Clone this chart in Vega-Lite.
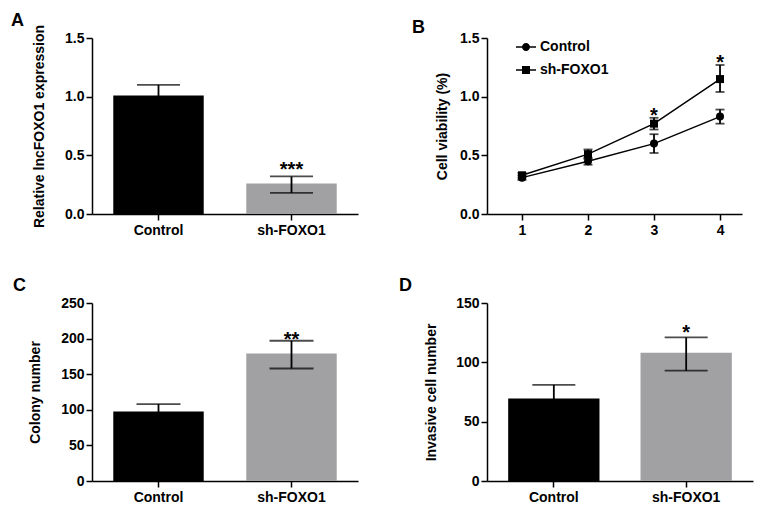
{
  "$schema": "https://vega.github.io/schema/vega-lite/v6.json",
  "padding": {"left": 11, "top": 12, "right": 5, "bottom": 5},
  "background": "white",
  "columns": 2,
  "spacing": {"row": 40, "column": 41},
  "datasets": {
    "A": [
      {"group": "Control", "value": 1.01, "lo": 0.92, "hi": 1.10, "sig": ""},
      {"group": "sh-FOXO1", "value": 0.26, "lo": 0.18, "hi": 0.32, "sig": "***"}
    ],
    "B": [
      {"day": 1, "group": "Control", "value": 0.31, "lo": 0.29, "hi": 0.33, "sig": ""},
      {"day": 2, "group": "Control", "value": 0.45, "lo": 0.42, "hi": 0.48, "sig": ""},
      {"day": 3, "group": "Control", "value": 0.60, "lo": 0.52, "hi": 0.68, "sig": ""},
      {"day": 4, "group": "Control", "value": 0.83, "lo": 0.77, "hi": 0.89, "sig": ""},
      {"day": 1, "group": "sh-FOXO1", "value": 0.33, "lo": 0.31, "hi": 0.35, "sig": ""},
      {"day": 2, "group": "sh-FOXO1", "value": 0.51, "lo": 0.47, "hi": 0.55, "sig": ""},
      {"day": 3, "group": "sh-FOXO1", "value": 0.77, "lo": 0.72, "hi": 0.82, "sig": "*"},
      {"day": 4, "group": "sh-FOXO1", "value": 1.15, "lo": 1.04, "hi": 1.27, "sig": "*"}
    ],
    "C": [
      {"group": "Control", "value": 97.5, "lo": 87, "hi": 108, "sig": ""},
      {"group": "sh-FOXO1", "value": 179, "lo": 158, "hi": 197, "sig": "**"}
    ],
    "D": [
      {"group": "Control", "value": 69.5, "lo": 58, "hi": 81, "sig": ""},
      {"group": "sh-FOXO1", "value": 108, "lo": 93, "hi": 121, "sig": "*"}
    ]
  },
  "concat": [
    {
      "title": {"text": "A", "anchor": "start", "frame": "group", "dx": -81, "offset": -6},
      "width": 266,
      "height": 176,
      "data": {"name": "A"},
      "encoding": {
        "x": {"field": "group", "type": "nominal", "sort": null, "scale": {"paddingInner": 0.32, "paddingOuter": 0.16}, "axis": {"title": null}}
      },
      "layer": [
        {"mark": {"type": "bar"}, "encoding": {
          "y": {"field": "value", "type": "quantitative", "scale": {"domain": [0, 1.5], "nice": false}, "axis": {"title": "Relative lncFOXO1 expression", "values": [0, 0.5, 1, 1.5], "tickCount": 10, "format": ".1f", "titlePadding": 18}},
          "color": {"field": "group", "type": "nominal", "scale": {"domain": ["Control", "sh-FOXO1"], "range": ["#000000", "#a1a1a4"]}, "legend": null}
        }},
        {"mark": {"type": "rule", "color": "black", "strokeWidth": 1.8}, "encoding": {"y": {"field": "lo", "type": "quantitative"}, "y2": {"field": "hi"}}},
        {"mark": {"type": "tick", "color": "black", "orient": "horizontal", "size": 43, "thickness": 1.8}, "encoding": {"y": {"field": "hi", "type": "quantitative"}}},
        {"mark": {"type": "tick", "color": "black", "orient": "horizontal", "size": 43, "thickness": 1.8}, "encoding": {"y": {"field": "lo", "type": "quantitative"}}},
        {"mark": {"type": "text", "fontSize": 20, "fontWeight": "bold", "font": "Liberation Sans", "baseline": "alphabetic", "dy": 0, "color": "black"}, "encoding": {"y": {"field": "hi", "type": "quantitative"}, "text": {"field": "sig"}}}
      ]
    },
    {
      "title": {"text": "B", "anchor": "start", "frame": "group", "dx": -75, "offset": -6},
      "width": 255,
      "height": 176,
      "data": {"name": "B"},
      "encoding": {
        "x": {"field": "day", "type": "quantitative", "scale": {"domain": [0.47, 4.333], "nice": false, "zero": false}, "axis": {"title": null, "values": [1, 2, 3, 4], "tickCount": 10, "format": "d"}}
      },
      "layer": [
        {"mark": {"type": "line", "color": "black", "strokeWidth": 1.5}, "encoding": {
          "y": {"field": "value", "type": "quantitative", "scale": {"domain": [0, 1.5], "nice": false}, "axis": {"title": "Cell viability (%)", "values": [0, 0.5, 1, 1.5], "tickCount": 10, "format": ".1f", "titlePadding": 10}},
          "detail": {"field": "group"}
        }},
        {"mark": {"type": "rule", "color": "black", "strokeWidth": 1.8}, "encoding": {"y": {"field": "lo", "type": "quantitative"}, "y2": {"field": "hi"}}},
        {"mark": {"type": "tick", "color": "black", "orient": "horizontal", "size": 9, "thickness": 1.8}, "encoding": {"y": {"field": "hi", "type": "quantitative"}}},
        {"mark": {"type": "tick", "color": "black", "orient": "horizontal", "size": 9, "thickness": 1.8}, "encoding": {"y": {"field": "lo", "type": "quantitative"}}},
        {"transform": [{"filter": "datum.group === 'Control'"}], "mark": {"type": "point", "shape": "circle", "filled": true, "color": "black", "opacity": 1, "size": 64}, "encoding": {"y": {"field": "value", "type": "quantitative"}}},
        {"transform": [{"filter": "datum.group === 'sh-FOXO1'"}], "mark": {"type": "point", "shape": "square", "filled": true, "color": "black", "opacity": 1, "size": 64}, "encoding": {"y": {"field": "value", "type": "quantitative"}}},
        {"mark": {"type": "point", "filled": true, "color": "black", "opacity": 0, "size": 64}, "encoding": {
          "y": {"field": "value", "type": "quantitative"},
          "shape": {"field": "group", "type": "nominal",
            "scale": {"domain": ["Control", "sh-FOXO1"], "range": ["M-2.5,-0.2L2.5,-0.2L2.5,0.2L-2.5,0.2Z M1,0A1,1,0,1,1,-1,0A1,1,0,1,1,1,0Z", "M-2.5,-0.2L2.5,-0.2L2.5,0.2L-2.5,0.2Z M-1,-1L1,-1L1,1L-1,1Z"]},
            "legend": {"orient": "none", "legendX": 32, "legendY": 2, "title": null, "labelFontSize": 14, "labelFont": "Liberation Sans", "labelFontWeight": "bold", "labelColor": "black", "symbolOpacity": 1, "symbolFillColor": "black", "symbolStrokeColor": "black", "symbolStrokeWidth": 0, "symbolSize": 64, "labelOffset": 7, "rowPadding": 9}
          }
        }},
        {"transform": [{"filter": "datum.sig != ''"}], "mark": {"type": "text", "fontSize": 20, "fontWeight": "bold", "font": "Liberation Sans", "baseline": "alphabetic", "dy": 4, "color": "black"}, "encoding": {"y": {"field": "hi", "type": "quantitative"}, "text": {"field": "sig"}}}
      ]
    },
    {
      "title": {"text": "C", "anchor": "start", "frame": "group", "dx": -79, "offset": 1},
      "width": 266,
      "height": 178,
      "data": {"name": "C"},
      "encoding": {
        "x": {"field": "group", "type": "nominal", "sort": null, "scale": {"paddingInner": 0.32, "paddingOuter": 0.16}, "axis": {"title": null}}
      },
      "layer": [
        {"mark": {"type": "bar"}, "encoding": {
          "y": {"field": "value", "type": "quantitative", "scale": {"domain": [0, 250], "nice": false}, "axis": {"title": "Colony number", "values": [0, 50, 100, 150, 200, 250], "tickCount": 10, "titlePadding": 18}},
          "color": {"field": "group", "type": "nominal", "scale": {"domain": ["Control", "sh-FOXO1"], "range": ["#000000", "#a1a1a4"]}, "legend": null}
        }},
        {"mark": {"type": "rule", "color": "black", "strokeWidth": 1.8}, "encoding": {"y": {"field": "lo", "type": "quantitative"}, "y2": {"field": "hi"}}},
        {"mark": {"type": "tick", "color": "black", "orient": "horizontal", "size": 44, "thickness": 1.8}, "encoding": {"y": {"field": "hi", "type": "quantitative"}}},
        {"mark": {"type": "tick", "color": "black", "orient": "horizontal", "size": 44, "thickness": 1.8}, "encoding": {"y": {"field": "lo", "type": "quantitative"}}},
        {"mark": {"type": "text", "fontSize": 20, "fontWeight": "bold", "font": "Liberation Sans", "baseline": "alphabetic", "dy": 5, "color": "black"}, "encoding": {"y": {"field": "hi", "type": "quantitative"}, "text": {"field": "sig"}}}
      ]
    },
    {
      "title": {"text": "D", "anchor": "start", "frame": "group", "dx": -88, "offset": 1},
      "width": 266,
      "height": 178,
      "data": {"name": "D"},
      "encoding": {
        "x": {"field": "group", "type": "nominal", "sort": null, "scale": {"paddingInner": 0.31, "paddingOuter": 0.16}, "axis": {"title": null}}
      },
      "layer": [
        {"mark": {"type": "bar"}, "encoding": {
          "y": {"field": "value", "type": "quantitative", "scale": {"domain": [0, 150], "nice": false}, "axis": {"title": "Invasive cell number", "values": [0, 50, 100, 150], "tickCount": 10, "titlePadding": 17}},
          "color": {"field": "group", "type": "nominal", "scale": {"domain": ["Control", "sh-FOXO1"], "range": ["#000000", "#a1a1a4"]}, "legend": null}
        }},
        {"mark": {"type": "rule", "color": "black", "strokeWidth": 1.8}, "encoding": {"y": {"field": "lo", "type": "quantitative"}, "y2": {"field": "hi"}}},
        {"mark": {"type": "tick", "color": "black", "orient": "horizontal", "size": 43, "thickness": 1.8}, "encoding": {"y": {"field": "hi", "type": "quantitative"}}},
        {"mark": {"type": "tick", "color": "black", "orient": "horizontal", "size": 43, "thickness": 1.8}, "encoding": {"y": {"field": "lo", "type": "quantitative"}}},
        {"mark": {"type": "text", "fontSize": 20, "fontWeight": "bold", "font": "Liberation Sans", "baseline": "alphabetic", "dy": 2, "color": "black"}, "encoding": {"y": {"field": "hi", "type": "quantitative"}, "text": {"field": "sig"}}}
      ]
    }
  ],
  "resolve": {"scale": {"color": "independent", "shape": "independent"}},
  "config": {
    "font": "Liberation Sans",
    "view": {"stroke": null},
    "title": {"font": "Liberation Sans", "fontSize": 18, "fontWeight": "bold", "color": "black", "baseline": "alphabetic"},
    "axis": {"domainColor": "black", "domainWidth": 1.5, "tickColor": "black", "tickWidth": 1.5, "tickSize": 6, "labelFont": "Liberation Sans", "labelFontWeight": "bold", "labelFontSize": 14, "labelColor": "black", "titleFont": "Liberation Sans", "titleFontWeight": "bold", "titleFontSize": 14, "titleColor": "black", "grid": false, "labelPadding": 2, "labelOverlap": false},
    "axisX": {"labelAngle": 0, "labelPadding": 3}
  }
}
